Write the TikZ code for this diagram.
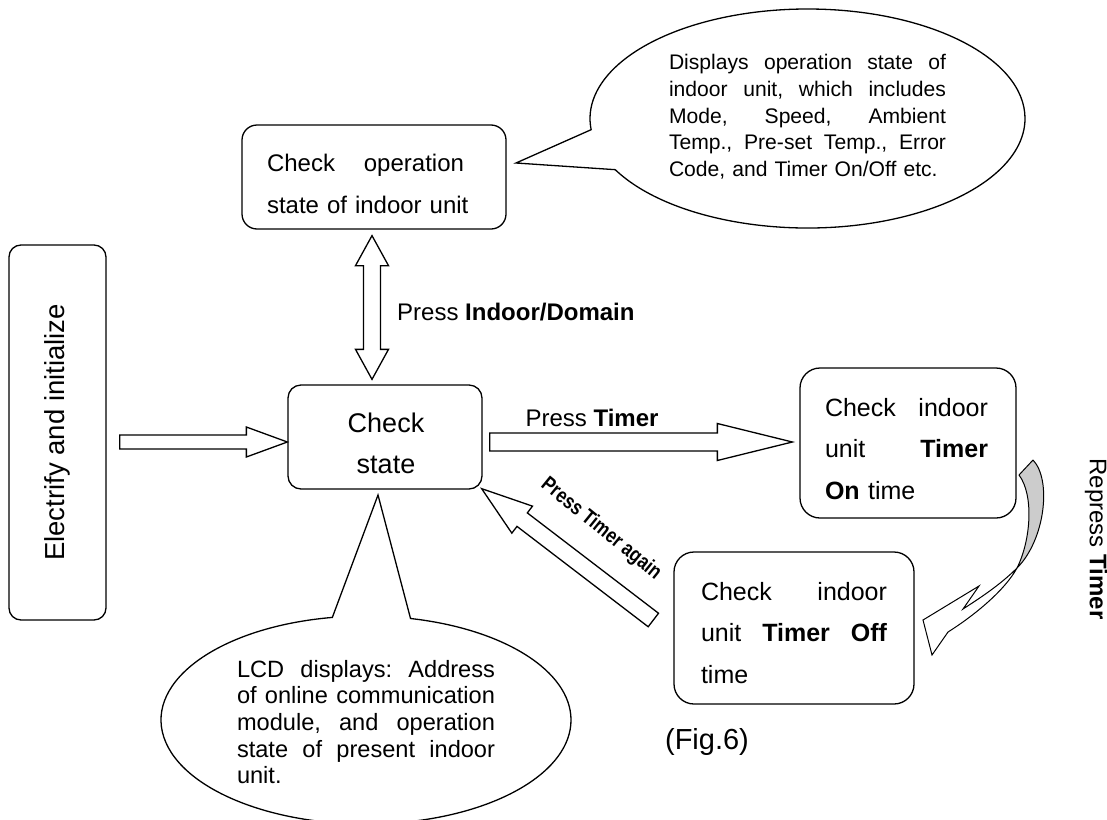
\documentclass[tikz,border=0pt]{standalone}
\usepackage{fontspec}
\setmainfont{Liberation Sans}
\usetikzlibrary{calc,shapes.callouts}

% type sizes
\newcommand\boxfont{\fontsize{24}{41.5}\selectfont}
\newcommand\timerfont{\fontsize{25}{41.5}\selectfont}
\newcommand\stfont{\fontsize{27}{41}\selectfont}
\newcommand\dispfont{\fontsize{21.1}{26.7}\selectfont}
\newcommand\lcdfont{\fontsize{23.6}{26.7}\selectfont}
% a line spread to a given width (words separated by \hfill)
\newcommand\jline[2]{\leavevmode\hbox to #1{#2}}

% hollow block arrow: start, tip, shaft half width, head half width, head length
\newcommand\blockarr[5]{%
  \coordinate (ba-h) at ($(#2)!#5!(#1)$);
  \draw[barrow] ($(#1)!#3!90:(#2)$) -- ($(ba-h)!#3!90:(#2)$) -- ($(ba-h)!#4!90:(#2)$)
    -- (#2) -- ($(ba-h)!#4!-90:(#2)$) -- ($(ba-h)!#3!-90:(#2)$) -- ($(#1)!#3!-90:(#2)$) -- cycle;}
% hollow double-headed block arrow
\newcommand\dblarr[5]{%
  \coordinate (da-a) at ($(#1)!#5!(#2)$);
  \coordinate (da-b) at ($(#2)!#5!(#1)$);
  \draw[barrow] (#1) -- ($(da-a)!#4!90:(#2)$) -- ($(da-a)!#3!90:(#2)$) -- ($(da-b)!#3!90:(#2)$)
    -- ($(da-b)!#4!90:(#2)$) -- (#2) -- ($(da-b)!#4!-90:(#2)$) -- ($(da-b)!#3!-90:(#2)$)
    -- ($(da-a)!#3!-90:(#2)$) -- ($(da-a)!#4!-90:(#2)$) -- cycle;}

\tikzset{
  box/.style={draw, line width=1.3pt, rounded corners=#1, fill=white, inner sep=0pt},
  box/.default=14pt,
  barrow/.style={draw, fill=white, line width=1.3pt, line join=miter},
  bubble/.style={ellipse callout, draw, fill=white, line width=1.3pt, inner sep=0pt},
  label/.style={font=\boxfont, inner sep=0pt},
}

\begin{document}
\begin{tikzpicture}[x=1pt, y=-1pt]
\useasboundingbox (0,0) rectangle (1107,819);

% ---------------- callouts ----------------
\node[bubble, minimum width=435pt, minimum height=219pt,
      callout absolute pointer={(516,163)}, callout pointer arc=22] (dispC) at (807.5,118.5) {};
\node[font=\dispfont, text width=277pt, align=left, inner sep=0pt] (dispT) at (807.5,117)
  {\jline{277pt}{Displays\hfill operation\hfill state\hfill of}\\
   \jline{277pt}{indoor\hfill unit,\hfill which\hfill includes}\\
   \jline{277pt}{Mode,\hfill Speed,\hfill Ambient}\\
   \jline{277pt}{Temp.,\hfill Pre-set\hfill Temp.,\hfill Error}\\
   \mbox{Code, and Timer On/Off etc.}};

\node[bubble, minimum width=410pt, minimum height=208pt,
      callout absolute pointer={(378,495)}, callout pointer arc=22] (lcdC) at (366,720) {};
\node[font=\lcdfont, text width=258pt, align=left, inner sep=0pt] (lcdT) at (366,722)
  {\jline{258pt}{LCD\hfill displays:\hfill Address}\\
   \jline{258pt}{of\hfill online\hfill communication}\\
   \jline{258pt}{module,\hfill and\hfill operation}\\
   \jline{258pt}{state\hfill of\hfill present\hfill indoor}\\
   \mbox{unit.}};

% ---------------- boxes ----------------
\node[box=12pt, minimum width=97pt, minimum height=375pt] (elec) at (57.5,432.5) {};
\node[inner sep=0pt, rotate=90, font=\fontsize{27.5}{30}\selectfont] (elecT) at (elec.center) {Electrify and initialize};

\node[box=13pt, minimum width=194pt, minimum height=104pt] (check) at (385,437) {};
\node[inner sep=0pt, font=\stfont, align=center] (checkT) at (386,443) {Check\\state};

\node[box=15pt, minimum width=264pt, minimum height=104pt] (opbox) at (374,177) {};
\node[label, text width=200pt, align=left] (opT) at (367,184)
  {\jline{197pt}{Check\hfill operation}\\\mbox{state of indoor unit}};

\node[box=20pt, minimum width=216pt, minimum height=150pt] (onbox) at (908,443) {};
\node[inner sep=0pt, font=\timerfont, text width=163pt, align=left] (onT) at (906.5,449)
  {\jline{163pt}{Check\hfill indoor}\\\jline{163pt}{unit\hfill\textbf{Timer}}\\\mbox{\textbf{On} time}};

\node[box=20pt, minimum width=240pt, minimum height=152pt] (offbox) at (794,628) {};
\node[inner sep=0pt, font=\timerfont, text width=186pt, align=left] (offT) at (794,633)
  {\jline{186pt}{Check\hfill indoor}\\\jline{186pt}{unit\hfill\textbf{Timer}\hfill\textbf{Off}}\\\mbox{time}};

% ---------------- block arrows ----------------
\coordinate (a1s) at ($(elec.east)+(13,9.5)$);
\coordinate (a1t) at ($(check.west)+(0,5)$);
\blockarr{a1s}{a1t}{7pt}{15pt}{41pt}

\coordinate (a2s) at ($(check.east)+(7,5)$);
\coordinate (a2t) at ($(onbox.west)+(-7,-1)$);
\blockarr{a2s}{a2t}{9pt}{18.5pt}{75pt}

\coordinate (a3s) at ($(opbox.south)+(-2,6)$);
\coordinate (a3t) at ($(opbox.south |- check.north)+(-2,-5)$);
\dblarr{a3s}{a3t}{8.5pt}{16.5pt}{30pt}

\coordinate (a4s) at ($(offbox.west)+(-20,-8)$);
\coordinate (a4t) at ($(check.south east)+(-1,-1)$);
\blockarr{a4s}{a4t}{8.5pt}{17pt}{51pt}

% curved ribbon arrow from the Timer On box to the Timer Off box
\coordinate (rT1) at (1033,460);
\coordinate (rT2) at (1019,475);
\coordinate (rX) at (1017,568);
\coordinate (rN) at (963,609);
\coordinate (rB) at (979,586);
\coordinate (rC) at (923,620);
\coordinate (rTip) at (932,655);
\coordinate (rH) at (948,632);
\draw[fill=gray!40, line width=1pt, line join=round]
  (rT1) .. controls (1052,480) and (1045,540) .. (rX)
  .. controls (1031,540) and (1034,495) .. (rT2) -- cycle;
\draw[fill=white, line width=1pt, line join=miter]
  (rX) .. controls (1000,585) and (980,598) .. (rN) -- (rB) -- (rC) -- (rTip) -- (rH)
  .. controls (975,615) and (1005,590) .. (rX) -- cycle;

% ---------------- labels ----------------
\node[label, anchor=west] (pidT) at (397,312) {Press \textbf{Indoor/Domain}};
\node[label] (ptT) at (592,418) {Press \textbf{Timer}};
\node[inner sep=0pt, rotate=-39, font=\fontsize{21}{21}\selectfont\bfseries] (ptaT) at (601,529)
  {\scalebox{0.82}[1]{Press Timer again}};
\node[label, rotate=-90] (repT) at (1096,539) {Repress \textbf{Timer}};
\node[inner sep=0pt, font=\fontsize{29}{29}\selectfont] (figT) at (707,742) {(Fig.6)};
\end{tikzpicture}
\end{document}
